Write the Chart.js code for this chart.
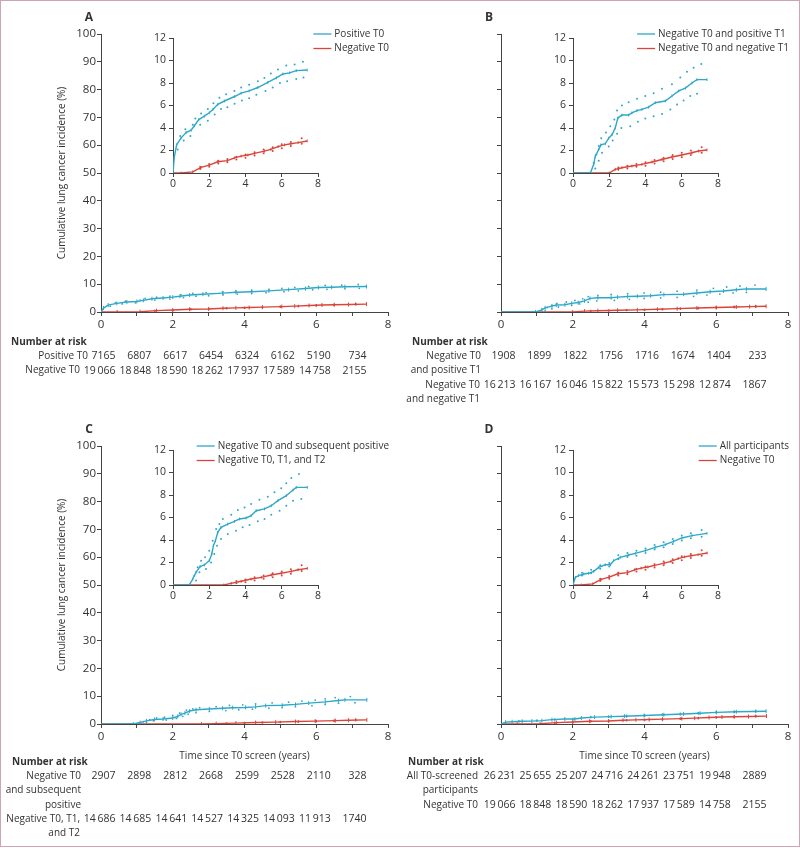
<!DOCTYPE html>
<html>
<head>
<meta charset="utf-8">
<script src="https://cdn.jsdelivr.net/npm/chart.js@4.4.0/dist/chart.umd.min.js"></script>
<style>
  body { margin: 0; background: #fff; }
  #page { position: relative; width: 800px; height: 847px; border: 1px solid #cfa2b6; box-sizing: border-box; overflow: hidden; }
  canvas { position: absolute; }
</style>
</head>
<body>
<div id="page"></div>
<script>
const TEAL = '#2ea8c8';
const RED = '#d9453b';
const AXIS = '#444';
const TXT = '#333';
const FONT = '"Open Sans", "DejaVu Sans", sans-serif';

// number at risk columns (years)
const riskYears = [0, 1, 2, 3, 4, 5, 6, 7];

// A: positive T0
const aPosT = [0, 0.07, 0.2, 0.44, 0.72, 1.0, 1.18, 1.42, 1.73, 2.0, 2.2, 2.47, 2.84, 3.4, 3.76, 4.2, 4.68, 5.23, 5.7, 6.06, 6.43, 6.8, 7.4];
const aPosV = [0, 1.4, 2.5, 3.1, 3.6, 3.8, 4.2, 4.75, 5.05, 5.35, 5.65, 6.1, 6.4, 6.8, 7.1, 7.3, 7.6, 8.05, 8.45, 8.8, 8.9, 9.1, 9.15];
const aPosUpT = [0.4, 0.68, 1.09, 1.23, 1.55, 1.92, 2.23, 2.56, 2.93, 3.39, 3.76, 4.2, 4.68, 5.04, 5.4, 5.79, 6.25, 6.71, 7.17];
const aPosUp = [3.3, 3.9, 4.3, 4.85, 5.3, 5.7, 6.2, 6.7, 7.0, 7.3, 7.6, 7.85, 8.15, 8.45, 8.85, 9.2, 9.55, 9.65, 9.9];
const aPosLoT = [0.26, 0.59, 0.96, 1.5, 1.92, 2.3, 2.65, 3.0, 3.4, 3.8, 4.2, 4.6, 5.1, 5.5, 5.9, 6.3, 6.8, 7.2];
const aPosLo = [2.1, 2.9, 3.3, 4.3, 4.65, 5.2, 5.7, 5.85, 6.15, 6.45, 6.65, 6.95, 7.3, 7.6, 8.0, 8.15, 8.35, 8.5];

// negative T0 (panels A and D)
const negT0T = [0, 0.45, 1.09, 1.55, 2.0, 2.47, 3.0, 3.4, 3.76, 4.13, 4.5, 5.04, 5.4, 5.8, 6.16, 6.5, 6.9, 7.4];
const negT0V = [0, 0, 0.1, 0.5, 0.7, 1.0, 1.1, 1.35, 1.5, 1.6, 1.75, 1.95, 2.1, 2.35, 2.5, 2.6, 2.7, 2.85];
const negT0CiT = [1.5, 2.0, 2.5, 3.0, 3.5, 4.0, 4.5, 5.0, 5.5, 6.0, 6.5, 7.1];
const negT0Up = [0.55, 0.8, 1.1, 1.25, 1.45, 1.65, 1.85, 2.1, 2.3, 2.55, 2.75, 3.1];
const negT0Lo = [0.35, 0.55, 0.85, 0.95, 1.2, 1.35, 1.55, 1.75, 1.95, 2.2, 2.4, 2.6];

// B: negative T0 and positive T1
const bPosT = [0, 0.96, 1.14, 1.23, 1.42, 1.54, 1.78, 1.97, 2.15, 2.33, 2.48, 2.7, 3.07, 3.25, 3.53, 3.8, 4.17, 4.54, 5.09, 5.46, 5.83, 6.2, 6.56, 6.84, 7.39];
const bPosV = [0, 0, 0.77, 1.5, 2.1, 2.5, 2.6, 3.1, 3.4, 4.0, 4.9, 5.15, 5.15, 5.35, 5.55, 5.65, 5.85, 6.25, 6.4, 6.85, 7.3, 7.55, 8.0, 8.3, 8.3];
const bPosUpT = [1.14, 1.29, 1.42, 1.56, 1.82, 2.06, 2.28, 2.43, 2.7, 3.07, 3.53, 3.99, 4.45, 4.91, 5.46, 5.92, 6.29, 6.66, 7.08];
const bPosUp = [0.9, 1.65, 2.4, 3.1, 3.6, 4.15, 4.75, 5.55, 6.0, 6.3, 6.6, 6.85, 7.1, 7.5, 7.9, 8.5, 9.0, 9.35, 9.7];
const bPosLoT = [1.23, 1.42, 1.6, 1.97, 2.19, 2.43, 2.67, 3.16, 3.58, 3.99, 4.45, 4.91, 5.37, 5.74, 6.1, 6.47, 6.84];
const bPosLo = [0.4, 1.1, 1.8, 2.35, 2.9, 3.5, 4.0, 4.15, 4.55, 4.85, 5.05, 5.25, 5.65, 6.1, 6.45, 6.85, 7.05];
// B: negative T0 and negative T1
const bNegT = [0, 2.0, 2.33, 2.7, 3.25, 3.8, 4.36, 4.91, 5.46, 6.0, 6.56, 6.93, 7.39];
const bNegV = [0, 0, 0.33, 0.47, 0.62, 0.77, 0.98, 1.2, 1.42, 1.6, 1.8, 1.95, 2.05];
const bNegCiT = [2.5, 3.0, 3.5, 4.0, 4.5, 5.0, 5.5, 6.0, 6.5, 7.1];
const bNegUp = [0.5, 0.65, 0.8, 0.95, 1.15, 1.35, 1.6, 1.8, 2.0, 2.3];
const bNegLo = [0.3, 0.4, 0.55, 0.65, 0.85, 1.05, 1.25, 1.4, 1.6, 1.8];

// C: negative T0 and subsequent positive
const cPosT = [0, 0.9, 1.09, 1.27, 1.49, 1.73, 2.0, 2.14, 2.23, 2.34, 2.47, 2.65, 3.02, 3.39, 3.67, 4.03, 4.31, 4.59, 5.05, 5.42, 5.79, 6.25, 6.62, 6.8, 7.41];
const cPosV = [0, 0, 0.53, 1.13, 1.63, 1.78, 2.16, 2.76, 3.5, 3.94, 4.68, 5.13, 5.42, 5.66, 5.87, 5.96, 6.16, 6.6, 6.76, 7.05, 7.5, 7.94, 8.44, 8.68, 8.68];
const cPosUpT = [1.18, 1.36, 1.55, 1.77, 2.0, 2.19, 2.38, 2.56, 2.75, 3.21, 3.58, 3.95, 4.31, 4.77, 5.23, 5.6, 5.97, 6.25, 6.53, 6.95];
const cPosUp = [0.83, 1.57, 2.16, 2.46, 3.05, 3.94, 4.98, 5.42, 5.87, 6.25, 6.67, 6.9, 7.2, 7.58, 7.85, 8.24, 8.6, 9.04, 9.51, 9.87];
const cPosLoT = [1.27, 1.46, 1.82, 2.1, 2.28, 2.43, 2.65, 3.02, 3.48, 3.84, 4.22, 4.68, 5.05, 5.42, 5.88, 6.25, 6.62, 7.08];
const cPosLo = [0.39, 1.13, 1.42, 2.0, 2.76, 3.5, 4.09, 4.53, 4.83, 5.13, 5.33, 5.66, 5.87, 6.25, 6.6, 7.05, 7.5, 7.64];
// C: negative T0, T1 and T2
const cNegT = [0, 2.8, 3.21, 3.76, 4.31, 4.87, 5.42, 5.97, 6.53, 6.9, 7.41];
const cNegV = [0, 0, 0.15, 0.33, 0.53, 0.68, 0.89, 1.04, 1.21, 1.36, 1.48];
const cNegCiT = [3.5, 4.0, 4.5, 5.0, 5.5, 6.0, 6.5, 7.1];
const cNegUp = [0.35, 0.5, 0.7, 0.85, 1.05, 1.2, 1.4, 1.75];
const cNegLo = [0.15, 0.25, 0.4, 0.55, 0.7, 0.85, 1.0, 1.25];

// D: all participants
const dAllT = [0, 0.13, 0.31, 0.59, 0.86, 1.14, 1.42, 1.78, 2.06, 2.24, 2.61, 3.07, 3.44, 3.99, 4.54, 5.09, 5.55, 6.01, 6.56, 7.39];
const dAllV = [0, 0.68, 0.83, 0.98, 1.04, 1.21, 1.57, 1.8, 1.8, 2.16, 2.46, 2.67, 2.81, 3.05, 3.35, 3.59, 3.88, 4.18, 4.39, 4.59];
const dAllCiT = [0.5, 1.0, 1.5, 2.0, 2.5, 3.0, 3.5, 4.0, 4.5, 5.0, 5.5, 6.0, 6.5, 7.1];
const dAllUp = [1.1, 1.35, 1.75, 1.95, 2.65, 2.85, 3.05, 3.25, 3.55, 3.8, 4.1, 4.4, 4.6, 4.9];
const dAllLo = [0.85, 1.05, 1.45, 1.65, 2.3, 2.5, 2.6, 2.85, 3.15, 3.35, 3.65, 3.95, 4.15, 4.3];

// numbers at risk
const riskPosT0 = [7165, 6807, 6617, 6454, 6324, 6162, 5190, 734];
const riskNegT0 = [19066, 18848, 18590, 18262, 17937, 17589, 14758, 2155];
const riskNegPosT1 = [1908, 1899, 1822, 1756, 1716, 1674, 1404, 233];
const riskNegNegT1 = [16213, 16167, 16046, 15822, 15573, 15298, 12874, 1867];
const riskSubsPos = [2907, 2898, 2812, 2668, 2599, 2528, 2110, 328];
const riskNegT2 = [14686, 14685, 14641, 14527, 14325, 14093, 11913, 1740];
const riskAll = [26231, 25655, 25207, 24716, 24261, 23751, 19948, 2889];

const panels = [
  {letter: 'A', left: 0, top: 0, height: 420, plotTop: 33, plotBottom: 311, yLabels: true, xTitle: false, tableLeft: 10,
   series: [
     {label: 'Positive T0', color: TEAL, t: aPosT, v: aPosV, upT: aPosUpT, up: aPosUp, loT: aPosLoT, lo: aPosLo},
     {label: 'Negative T0', color: RED, t: negT0T, v: negT0V, upT: negT0CiT, up: negT0Up, loT: negT0CiT, lo: negT0Lo}],
   rows: [{label: ['Positive T0'], values: riskPosT0, gap: 13}, {label: ['Negative T0'], values: riskNegT0, gap: 21}]},
  {letter: 'B', left: 400, top: 0, height: 420, plotTop: 33, plotBottom: 311, yLabels: false, xTitle: false, tableLeft: 11,
   series: [
     {label: 'Negative T0 and positive T1', color: TEAL, t: bPosT, v: bPosV, upT: bPosUpT, up: bPosUp, loT: bPosLoT, lo: bPosLo},
     {label: 'Negative T0 and negative T1', color: RED, t: bNegT, v: bNegV, upT: bNegCiT, up: bNegUp, loT: bNegCiT, lo: bNegLo}],
   rows: [{label: ['Negative T0', 'and positive T1'], values: riskNegPosT1, gap: 20}, {label: ['Negative T0', 'and negative T1'], values: riskNegNegT1, gap: 21}]},
  {letter: 'C', left: 0, top: 420, height: 427, plotTop: 25, plotBottom: 303, yLabels: true, xTitle: true, tableLeft: 11,
   series: [
     {label: 'Negative T0 and subsequent positive', color: TEAL, t: cPosT, v: cPosV, upT: cPosUpT, up: cPosUp, loT: cPosLoT, lo: cPosLo},
     {label: 'Negative T0, T1, and T2', color: RED, t: cNegT, v: cNegV, upT: cNegCiT, up: cNegUp, loT: cNegCiT, lo: cNegLo}],
   rows: [{label: ['Negative T0', 'and subsequent', 'positive'], values: riskSubsPos, gap: 20}, {label: ['Negative T0, T1,', 'and T2'], values: riskNegT2, gap: 21}]},
  {letter: 'D', left: 400, top: 420, height: 427, plotTop: 25, plotBottom: 303, yLabels: false, xTitle: true, tableLeft: 7,
   series: [
     {label: 'All participants', color: TEAL, t: dAllT, v: dAllV, upT: dAllCiT, up: dAllUp, loT: dAllCiT, lo: dAllLo},
     {label: 'Negative T0', color: RED, t: negT0T, v: negT0V, upT: negT0CiT, up: negT0Up, loT: negT0CiT, lo: negT0Lo}],
   rows: [{label: ['All T0-screened', 'participants'], values: riskAll, gap: 23}, {label: ['Negative T0'], values: riskNegT0, gap: 23}]}
];

function pts(t, v) { return t.map((x, i) => ({x: x, y: v[i]})); }

function buildDatasets(series, tick, dot) {
  const out = [];
  series.forEach(s => {
    out.push({data: pts(s.upT, s.up), showLine: false, pointStyle: 'circle', pointRadius: dot,
      pointBackgroundColor: s.color, pointBorderWidth: 0});
    out.push({data: pts(s.loT, s.lo), showLine: false, pointStyle: 'circle', pointRadius: dot,
      pointBackgroundColor: s.color, pointBorderWidth: 0});
    out.push({label: s.label, data: pts(s.t, s.v), borderColor: s.color, borderWidth: 1.4, tension: 0,
      pointStyle: 'line', pointRotation: 90, pointRadius: c => c.dataIndex === 0 ? 0 : tick,
      pointBorderColor: s.color, pointBorderWidth: 1, fill: false});
  });
  return out;
}

function fmt(n) {
  return n >= 10000 ? String(n).replace(/(\d)(\d{3})$/, '$1\u2009$2') : String(n);
}

function decor(p) {
  return {
    id: 'decor' + p.letter,
    afterDraw(chart) {
      const ctx = chart.ctx, area = chart.chartArea, xs = chart.scales.x;
      ctx.save();
      ctx.fillStyle = TXT;
      ctx.textBaseline = 'middle';
      // panel letter
      ctx.font = 'bold 12px ' + FONT;
      ctx.textAlign = 'center';
      ctx.fillText(p.letter, area.left - 12, area.top - 16);
      // legend
      ctx.font = '10px ' + FONT;
      const w = Math.max(...p.series.map(s => ctx.measureText(s.label).width));
      const lx = area.right + 1 - w - 21;
      p.series.forEach((s, i) => {
        const ly = area.top + i * 14.5;
        ctx.strokeStyle = s.color;
        ctx.lineWidth = 1.3;
        ctx.beginPath(); ctx.moveTo(lx, ly); ctx.lineTo(lx + 18, ly); ctx.stroke();
        ctx.textAlign = 'left';
        ctx.fillText(s.label, lx + 21, ly);
      });
      // number at risk
      const LH = 14.3;
      const y0 = area.bottom + (p.xTitle ? 38 : 30);
      ctx.font = 'bold 10px ' + FONT;
      ctx.textAlign = 'left';
      ctx.fillText('Number at risk', p.tableLeft, y0);
      let line = 1;
      p.rows.forEach(row => {
        const ry = y0 + line * LH;
        ctx.textAlign = 'right';
        ctx.font = '10.5px ' + FONT;
        row.values.forEach((n, i) => ctx.fillText(fmt(n), xs.getPixelForValue(riskYears[i]) + 14.5, ry));
        ctx.font = '10px ' + FONT;
        row.label.forEach((s, k) => ctx.fillText(s, xs.getPixelForValue(0) - row.gap, y0 + (line + k) * LH));
        line += row.label.length;
      });
      ctx.restore();
    }
  };
}

function addCanvas(left, top, w, h) {
  const c = document.createElement('canvas');
  c.width = w; c.height = h;
  c.style.left = left + 'px'; c.style.top = top + 'px';
  c.style.width = w + 'px'; c.style.height = h + 'px';
  document.getElementById('page').appendChild(c);
  return c;
}

panels.forEach(p => {
  // main chart
  const xH = p.xTitle ? 40 : 22;
  const main = addCanvas(p.left, p.top, 400, p.height);
  new Chart(main.getContext('2d'), {
    type: 'line',
    data: {datasets: buildDatasets(p.series, 2, 0.9)},
    options: {
      responsive: false, animation: false, events: [],
      layout: {padding: {left: 0, top: p.plotTop, right: 13, bottom: p.height - p.plotBottom - xH}},
      plugins: {legend: {display: false}, tooltip: {enabled: false}},
      scales: {
        x: {type: 'linear', min: 0, max: 8,
          ticks: {stepSize: 1, autoSkip: false, maxRotation: 0, padding: 2, color: TXT, font: {family: FONT, size: 11.5},
            callback: v => v % 2 === 0 ? String(v) : ''},
          grid: {drawOnChartArea: false, tickLength: 4, color: AXIS},
          border: {color: AXIS, width: 1},
          title: {display: p.xTitle, text: 'Time since T0 screen (years)', color: TXT,
            font: {family: FONT, size: 10}, padding: {top: 0, bottom: 2}},
          afterFit: s => { s.height = xH; }},
        y: {min: 0, max: 100,
          ticks: {stepSize: 10, padding: 1, color: TXT, font: {family: FONT, size: 11.5},
            callback: v => p.yLabels ? String(v) : ''},
          grid: {drawOnChartArea: false, tickLength: 4, color: AXIS},
          border: {color: AXIS, width: 1},
          title: {display: p.yLabels, text: 'Cumulative lung cancer incidence (%)', color: TXT,
            font: {family: FONT, size: 10}, padding: {top: 55, bottom: 0}},
          afterFit: s => { s.width = 100; }}
      }
    },
    plugins: [decor(p)]
  });

  // inset chart
  const insetTop = p.plotTop + 4;
  const inset = addCanvas(p.left + 127, p.top + insetTop - 12, 202, 169);
  new Chart(inset.getContext('2d'), {
    type: 'line',
    data: {datasets: buildDatasets(p.series, 1.4, 1)},
    options: {
      responsive: false, animation: false, events: [],
      layout: {padding: {left: 0, top: 12, right: 12, bottom: 0}},
      plugins: {legend: {display: false}, tooltip: {enabled: false}},
      scales: {
        x: {type: 'linear', min: 0, max: 8,
          ticks: {stepSize: 2, autoSkip: false, maxRotation: 0, padding: 1, color: TXT, font: {family: FONT, size: 10.5}},
          grid: {drawOnChartArea: false, tickLength: 4, color: AXIS},
          border: {color: AXIS, width: 1},
          afterFit: s => { s.height = 22; }},
        y: {min: 0, max: 12,
          ticks: {stepSize: 2, padding: 3, color: TXT, font: {family: FONT, size: 10.5}},
          grid: {drawOnChartArea: false, tickLength: 4, color: AXIS},
          border: {color: AXIS, width: 1},
          afterFit: s => { s.width = 45; }}
      }
    }
  });
});
</script>
</body>
</html>
